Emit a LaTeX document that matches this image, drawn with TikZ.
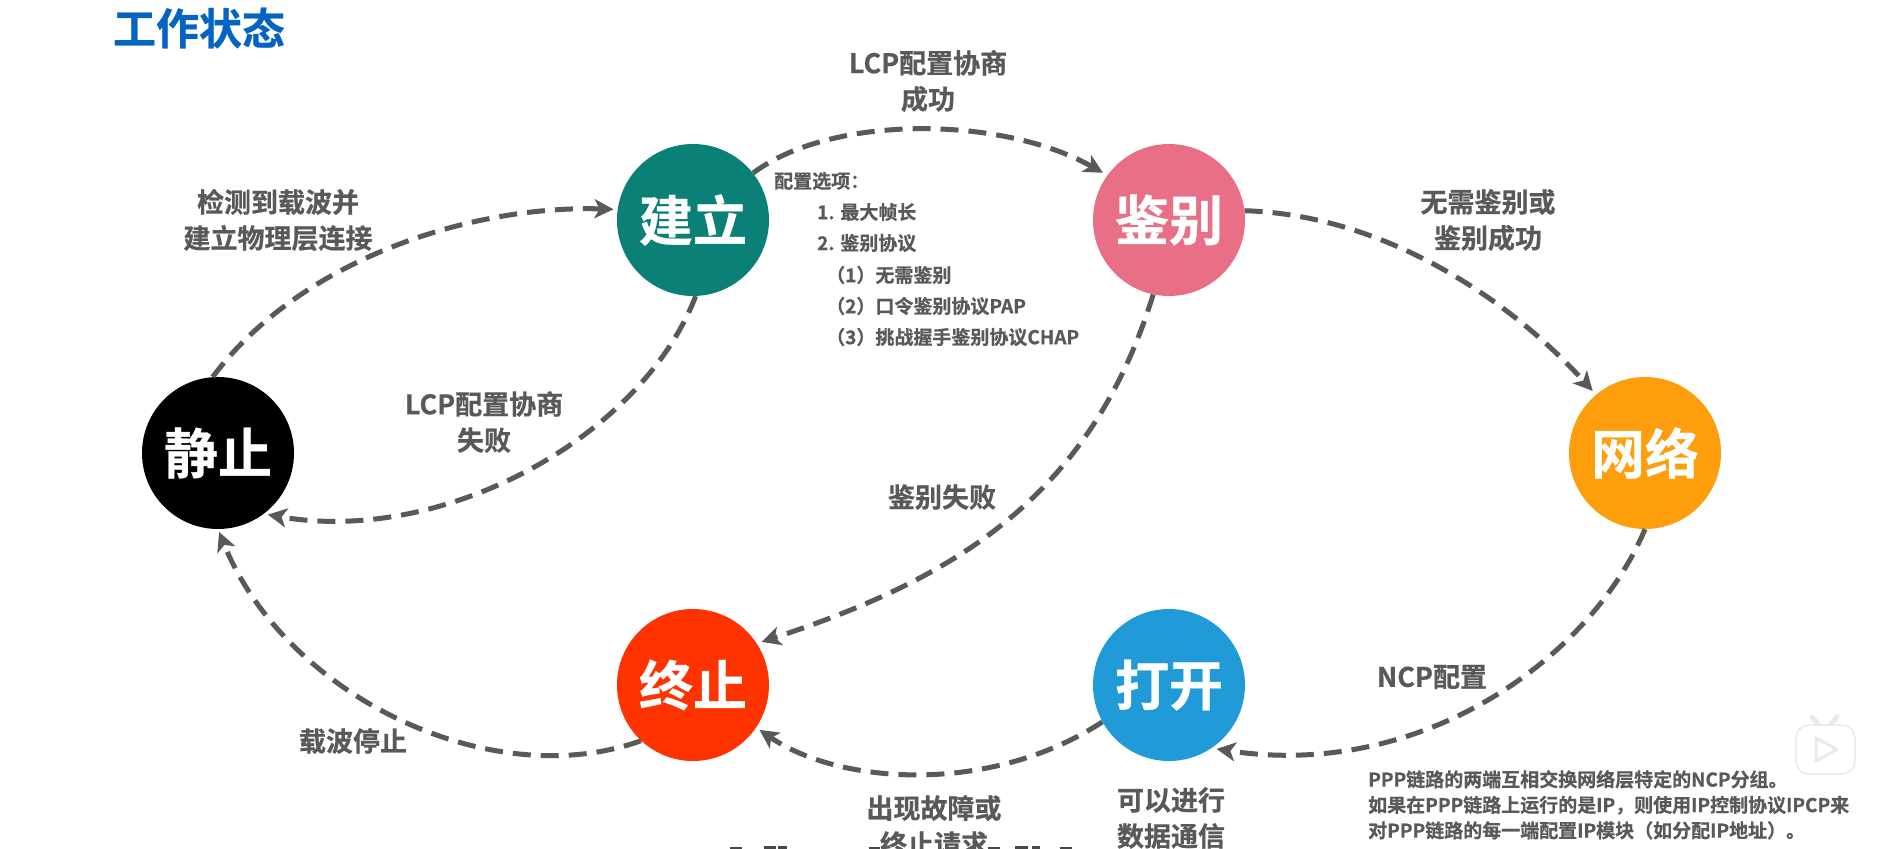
\documentclass[tikz,border=0pt]{standalone}
\usepackage{fontspec}
\setmainfont{Noto Sans CJK SC}[BoldFont={* Bold},BoldFeatures={FakeBold=0.6}]
\usetikzlibrary{arrows.meta}
\definecolor{lbl}{HTML}{595959}
\definecolor{cstill}{HTML}{000000}
\definecolor{cbuild}{HTML}{0B8076}
\definecolor{cauth}{HTML}{E86F85}
\definecolor{cnet}{HTML}{FF9E0D}
\definecolor{copen}{HTML}{209BD7}
\definecolor{cend}{HTML}{FF3300}
\definecolor{ctitle}{HTML}{0563C1}
\definecolor{iconline}{HTML}{EAEAEA}
\tikzset{
  x=1pt,y=-1pt,
  statebox/.style={circle,minimum size=152pt,inner sep=0pt,text=white,font=\fontsize{54}{54}\selectfont\bfseries},
  lab/.style={text=lbl,font=\fontsize{27}{36}\selectfont\bfseries,align=center,inner sep=0pt},
  small/.style={text=lbl,font=\fontsize{19}{25}\selectfont\bfseries,anchor=west,inner sep=0pt},
  note/.style={text=lbl,font=\fontsize{19}{25.5}\selectfont\bfseries,anchor=north west,align=left,inner sep=0pt},
  flow/.style={draw=lbl,line width=5pt,dash pattern=on 18pt off 10pt,-{Stealth[length=19pt,width=19pt,inset=5pt]}},
  frag/.style={fill=lbl!80!black},
}
\begin{document}
\begin{tikzpicture}
\useasboundingbox (0,0) rectangle (1899,849);
\clip (0,0) rectangle (1899,849);
\fill[white] (0,0) rectangle (1899,849);
\node[text=ctitle,font=\fontsize{43}{43}\selectfont\bfseries,inner sep=0pt] (title) at (199,28) {工作状态};
\node[statebox,fill=cstill] (still) at (218,453) {静止};
\node[statebox,fill=cbuild] (build) at (693,220) {建立};
\node[statebox,fill=cauth] (auth) at (1169,220) {鉴别};
\node[statebox,fill=cnet] (net) at (1645,453) {网络};
\node[statebox,fill=copen] (open) at (1169,685) {打开};
\node[statebox,fill=cend] (term) at (693,685) {终止};
% connectors
\draw[flow,shorten >=4pt] (still.94) .. controls (300,260) and (470,205) .. (build.172);
\draw[flow,shorten >=5pt] (build.38) .. controls (830,115) and (1000,115) .. (auth.144);
\draw[flow,shorten >=4pt] (build.272) .. controls (640,440) and (440,545) .. (still.307);
\draw[flow,shorten >=5pt] (auth.258) .. controls (1090,500) and (950,580) .. (term.33.5);
\draw[flow,shorten >=5pt] (auth.7) .. controls (1385,215) and (1510,300) .. (net.130.5);
\draw[flow,shorten >=5pt] (net.270) .. controls (1590,660) and (1420,780) .. (open.304.5);
\draw[flow,shorten >=4pt] (open.209) .. controls (990,795) and (840,785) .. (term.326);
\draw[flow,shorten >=3pt] (term.227) .. controls (490,795) and (285,695) .. (still.270);
% labels
\node[lab] (l1) at (928,81) {LCP配置协商\\成功};
\node[lab] (l2) at (278,220) {检测到载波并\\建立物理层连接};
\node[lab] (l3) at (484,422) {LCP配置协商\\失败};
\node[lab] (l4) at (1488,220) {无需鉴别或\\鉴别成功};
\node[lab] (l5) at (942,497) {鉴别失败};
\node[lab] (l6) at (1432,677) {NCP配置};
\node[lab] (l7) at (353,741) {载波停止};
\node[lab] (l8) at (934,826) {出现故障或\\终止请求};
\node[lab] (l9) at (1171,818) {可以进行\\数据通信};
\node[small] (o1) at (774,181) {配置选项：};
\node[small] (o2) at (817,212) {1. 最大帧长};
\node[small] (o3) at (817,243) {2. 鉴别协议};
\node[small] (o4) at (826,275) {（1）无需鉴别};
\node[small] (o5) at (826,306) {（2）口令鉴别协议PAP};
\node[small] (o6) at (826,337) {（3）挑战握手鉴别协议CHAP};
\node[note] (n1) at (1368,770) {PPP链路的两端互相交换网络层特定的NCP分组。\\如果在PPP链路上运行的是IP，则使用IP控制协议IPCP来\\对PPP链路的每一端配置IP模块（如分配IP地址）。};
% player watermark
\draw[iconline,line width=5pt,line cap=round] (1812,717) -- (1820,727) (1837,717) -- (1829,727);
\draw[iconline,line width=1.5pt,fill=white,rounded corners=13pt] (1796,725) rectangle (1855,774);
\draw[iconline,line width=3pt,fill=white,line join=round] (1816,738) -- (1837,749.5) -- (1816,761) -- cycle;
% cropped line of text along the lower edge
\fill[frag] (730,846.5) rectangle (742,849);
\fill[frag] (764,846) rectangle (776,849);
\fill[frag] (778,846) rectangle (787,849);
\fill[frag] (869,847) rectangle (880,849);
\fill[frag] (988,847) rectangle (1000,849);
\fill[frag] (1015,846) rectangle (1028,849);
\fill[frag] (1032,846) rectangle (1040,849);
\fill[frag] (1060,846.5) rectangle (1072,849);
\end{tikzpicture}
\end{document}
